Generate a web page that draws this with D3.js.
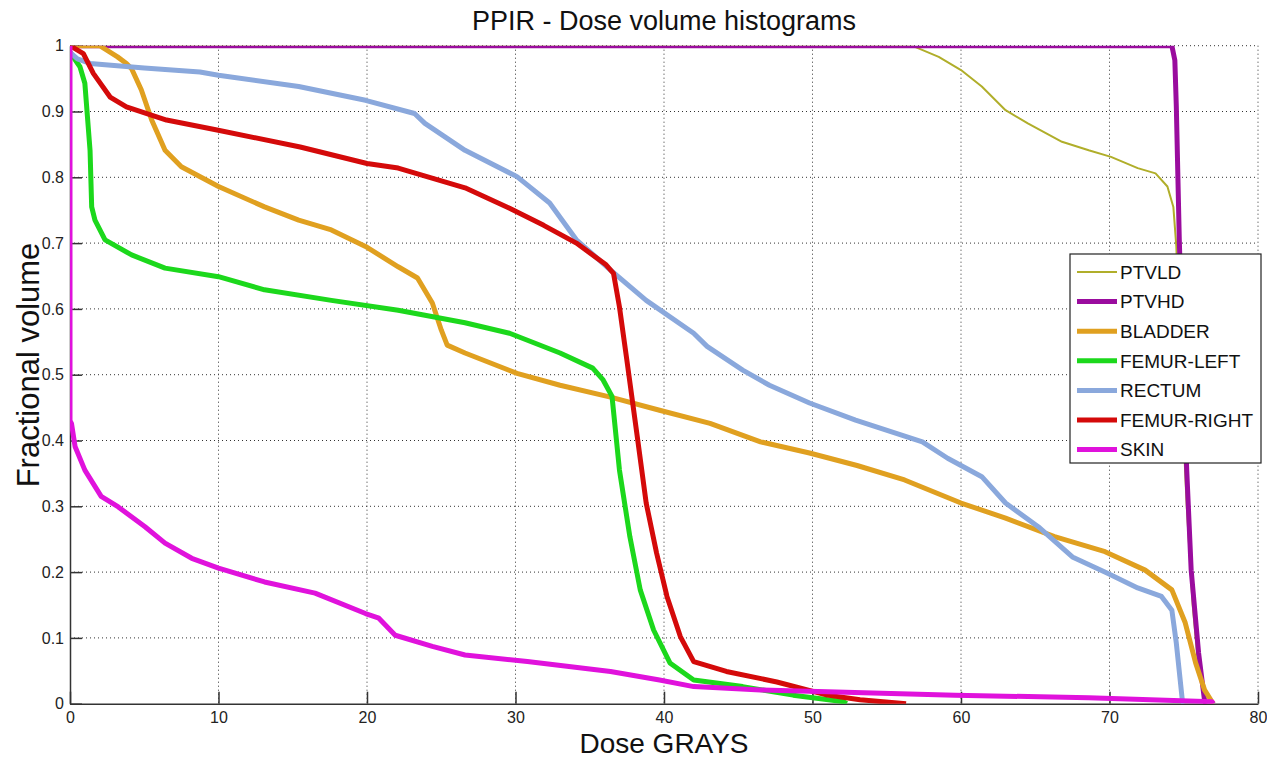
<!DOCTYPE html>
<html><head><meta charset="utf-8">
<script src="https://cdn.jsdelivr.net/npm/d3@7"></script>
<style>body{margin:0;background:#fff;} text{font-family:"Liberation Sans",Arial,sans-serif;}</style>
</head><body><svg id="c" width="1267" height="759"></svg>
<script>
const seriesNames = ["PTVLD","PTVHD","BLADDER","FEMUR-LEFT","RECTUM","FEMUR-RIGHT","SKIN"];
const xTicks = [0,10,20,30,40,50,60,70,80];
const yTicks = [0,0.1,0.2,0.3,0.4,0.5,0.6,0.7,0.8,0.9,1];
const yTickLabels = ["0","0.1","0.2","0.3","0.4","0.5","0.6","0.7","0.8","0.9","1"];

const ptvld = [[0,1],[56.7,1],[58.5,0.983],[60.0,0.963],[61.4,0.938],[63.0,0.902],[64.5,0.882],[66.8,0.854],[68.6,0.841],[70.1,0.831],[71.9,0.814],[73.1,0.806],[73.9,0.786],[74.3,0.755],[74.5,0.695],[74.8,0.5],[75.2,0.3],[75.6,0.15],[76.0,0.05],[76.5,0]];
const ptvhd = [[0,1],[74.2,1],[74.4,0.978],[74.5,0.907],[74.7,0.705],[74.9,0.55],[75.2,0.355],[75.5,0.203],[76.0,0.077],[76.4,0.005],[76.5,0]];
const bladder = [[0,1],[2.0,1],[3.2,0.983],[3.8,0.973],[4.15,0.965],[4.8,0.933],[5.5,0.887],[6.4,0.841],[7.5,0.816],[10.0,0.786],[13.1,0.755],[15.4,0.735],[17.6,0.72],[19.9,0.695],[22.1,0.664],[23.4,0.647],[24.4,0.609],[25.0,0.568],[25.4,0.545],[26.6,0.533],[30.1,0.502],[33,0.484],[36.4,0.466],[39.7,0.446],[43.1,0.426],[46.5,0.398],[49.8,0.381],[53.0,0.362],[56.2,0.340],[60.0,0.305],[63.0,0.282],[66.3,0.254],[69.7,0.231],[72.4,0.203],[74.2,0.173],[75.1,0.123],[75.8,0.062],[76.4,0.021],[76.9,0.003],[77.0,0]];
const femurLeft = [[0,0.99],[0.67,0.968],[1.0,0.943],[1.35,0.841],[1.46,0.755],[1.68,0.735],[2.36,0.705],[4.15,0.682],[6.4,0.662],[10.0,0.649],[13.1,0.629],[17.6,0.613],[22.1,0.598],[26.6,0.579],[29.6,0.563],[33.0,0.533],[35.2,0.510],[35.9,0.492],[36.5,0.467],[37.0,0.355],[37.7,0.254],[38.4,0.173],[39.3,0.112],[40.4,0.062],[42.0,0.036],[45.3,0.026],[48.7,0.013],[52.1,0.003],[52.3,0]];
const rectum = [[0,0.99],[0.5,0.98],[1.35,0.973],[5,0.966],[8.75,0.960],[10.0,0.955],[15.4,0.938],[19.9,0.917],[23.2,0.897],[23.9,0.882],[26.6,0.841],[30.1,0.801],[32.3,0.761],[34.1,0.705],[36.4,0.659],[38.8,0.613],[42.0,0.563],[42.9,0.543],[45.3,0.507],[47.1,0.484],[49.8,0.457],[52.9,0.431],[57.4,0.398],[59.1,0.373],[61.4,0.345],[63.0,0.305],[65.2,0.269],[67.5,0.223],[69.9,0.198],[71.9,0.176],[73.5,0.163],[74.2,0.142],[74.5,0.092],[74.9,0.006],[75.0,0]];
const femurRight = [[0,1],[0.9,0.988],[1.57,0.958],[2.7,0.922],[3.8,0.907],[6.5,0.887],[9.9,0.872],[15.5,0.846],[20.0,0.821],[22.1,0.814],[26.6,0.784],[29.6,0.753],[31.9,0.727],[34.1,0.700],[36.1,0.667],[36.6,0.654],[37.0,0.603],[37.5,0.522],[38.2,0.406],[38.8,0.305],[39.5,0.229],[40.2,0.163],[41.1,0.102],[42.0,0.064],[44.2,0.049],[47.6,0.033],[51.0,0.013],[53.2,0.006],[56.3,0]];
const skin = [[0,1],[0,0.43],[0.1,0.426],[0.34,0.391],[1.0,0.355],[2.1,0.315],[3.25,0.299],[5.05,0.269],[6.4,0.244],[8.2,0.221],[10.0,0.206],[13.1,0.185],[16.5,0.168],[19.9,0.137],[20.8,0.130],[21.9,0.104],[24.4,0.087],[26.6,0.074],[30.8,0.064],[36.4,0.049],[39.7,0.036],[42.0,0.026],[46.5,0.021],[51.0,0.018],[59.6,0.013],[68.6,0.009],[76.9,0.003],[77.0,0]];

const seriesData = [ptvld, ptvhd, bladder, femurLeft, rectum, femurRight, skin];
const seriesColors = ["#b0ae2a","#9a0c9e","#e0a020","#1cd81c","#8aa8dc","#d40a0a","#e012dc"];
const seriesWidths = [2,5,5,5,5,5,5];

const svg = d3.select("#c");
const L = 70, T = 45.7, W = 1188, H = 658;
const x = d3.scaleLinear().domain([0,80]).range([L, L+W]);
const y = d3.scaleLinear().domain([0,1]).range([T+H, T]);

// grid
const grid = svg.append("g").attr("stroke","#333").attr("stroke-width",1).attr("stroke-dasharray","1,3");
xTicks.forEach(t => { if (t>0) grid.append("line").attr("x1",x(t)).attr("x2",x(t)).attr("y1",T).attr("y2",T+H); });
yTicks.forEach(t => { if (t>0) grid.append("line").attr("x1",L).attr("x2",L+W).attr("y1",y(t)).attr("y2",y(t)); });

// axes
const xAxis = d3.axisBottom(x).tickValues(xTicks).tickSizeInner(-12).tickSizeOuter(0).tickPadding(8).tickFormat(d3.format("d"));
const yAxis = d3.axisLeft(y).tickValues(yTicks).tickSizeInner(-12).tickSizeOuter(0).tickPadding(6).tickFormat((d,i)=>yTickLabels[i]);
const gx = svg.append("g").attr("transform",`translate(0,${T+H})`).call(xAxis);
const gy = svg.append("g").attr("transform",`translate(${L},0)`).call(yAxis);
[gx,gy].forEach(g=>{
  g.select(".domain").attr("stroke","#333").attr("stroke-width",1.5);
  g.selectAll(".tick line").attr("stroke","#333").attr("stroke-width",1.5);
  g.selectAll(".tick text").attr("fill","#222").attr("font-size",16).attr("font-family",'"Liberation Sans",Arial,sans-serif');
});
gx.selectAll(".tick text").attr("dy","0.7em");
gy.selectAll(".tick text").attr("dy","0.32em");

// lines
svg.append("clipPath").attr("id","clip").append("rect").attr("x",L).attr("y",T).attr("width",W).attr("height",H);
const line = d3.line().x(d=>x(d[0])).y(d=>y(d[1]));
const lg = svg.append("g").attr("clip-path","url(#clip)");
seriesData.forEach((s,i)=>{
  lg.append("path").datum(s).attr("d",line).attr("fill","none")
    .attr("stroke",seriesColors[i]).attr("stroke-width",seriesWidths[i]).attr("stroke-linejoin","round");
});

// title and labels
svg.append("text").attr("x",664).attr("y",30).attr("text-anchor","middle").attr("font-size",27).attr("fill","#111").text("PPIR - Dose volume histograms");
svg.append("text").attr("x",664).attr("y",753).attr("text-anchor","middle").attr("font-size",28).attr("fill","#111").text("Dose GRAYS");
svg.append("text").attr("transform","translate(39,365) rotate(-90)").attr("text-anchor","middle").attr("font-size",31).attr("fill","#111").text("Fractional volume");

// legend
const leg = svg.append("g");
leg.append("rect").attr("x",1070).attr("y",254).attr("width",191).attr("height",209).attr("fill","#fff").attr("stroke","#222").attr("stroke-width",1.2);
seriesNames.forEach((n,i)=>{
  const yy = 272 + i*29.6;
  leg.append("line").attr("x1",1077).attr("x2",1117).attr("y1",yy).attr("y2",yy).attr("stroke",seriesColors[i]).attr("stroke-width",seriesWidths[i]);
  leg.append("text").attr("x",1120).attr("y",yy).attr("dy","0.36em").attr("font-size",19).attr("fill","#111").text(n);
});
</script></body></html>
